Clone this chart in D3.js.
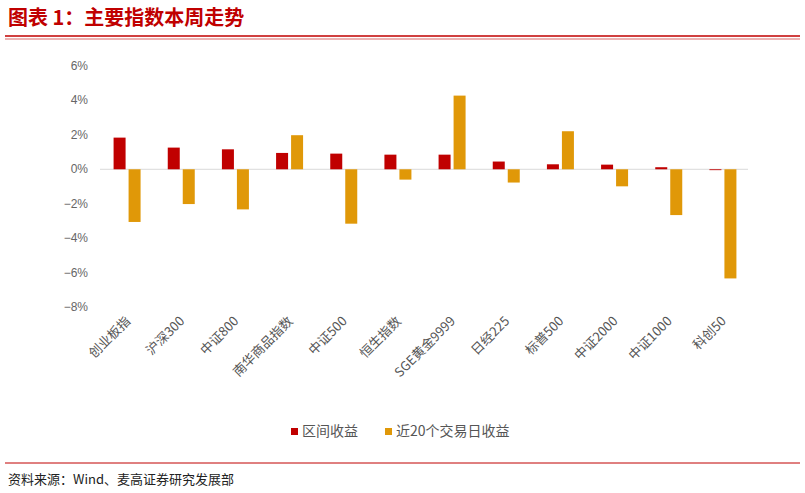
<!DOCTYPE html>
<html><head><meta charset="utf-8">
<script src="https://cdn.jsdelivr.net/npm/d3@7"></script>
<style>body{margin:0;background:#fff;font-family:"Noto Sans CJK SC",sans-serif}</style>
</head><body>
<script>
const categories = ["创业板指","沪深300","中证800","南华商品指数","中证500","恒生指数","SGE黄金9999","日经225","标普500","中证2000","中证1000","科创50"];
const weekReturn = [1.84,1.26,1.16,0.95,0.91,0.85,0.85,0.45,0.29,0.27,0.12,-0.05];
const month20Return = [-3.06,-2.02,-2.33,1.98,-3.16,-0.6,4.28,-0.77,2.21,-0.99,-2.66,-6.34];
const seriesNames = ["区间收益","近20个交易日收益"];
const colors = ["#c00000","#e09808"];
const yTicks = [6,4,2,0,-2,-4,-6,-8];

const width = 805, height = 493;
const svg = d3.select("body").append("svg").attr("width", width).attr("height", height);

// header
svg.append("text").attr("x", 8).attr("y", 25).attr("font-size", 20).attr("font-weight", "bold")
  .attr("fill", "#c00000").text("图表 1：主要指数本周走势");
svg.append("line").attr("x1", 5).attr("x2", 800).attr("y1", 36).attr("y2", 36).attr("stroke", "#c00000").attr("stroke-width", 1.5);
svg.append("line").attr("x1", 5).attr("x2", 800).attr("y1", 39).attr("y2", 39).attr("stroke", "#c00000").attr("stroke-width", 0.6);
// footer
svg.append("line").attr("x1", 5).attr("x2", 800).attr("y1", 463).attr("y2", 463).attr("stroke", "#c00000").attr("stroke-width", 1);
svg.append("text").attr("x", 8).attr("y", 484).attr("font-size", 13).attr("fill", "#222")
  .text("资料来源：Wind、麦高证券研究发展部");

const x = d3.scaleBand().domain(categories).range([100, 750]);
const y = d3.scaleLinear().domain([-8, 6]).range([307, 66]);
const bw = 12, gap = 3;

svg.append("g").selectAll("text").data(yTicks).join("text")
  .attr("x", 88).attr("y", d => y(d) + 4).attr("text-anchor", "end")
  .attr("font-size", 12).attr("fill", "#666").attr("font-family", "Liberation Sans, sans-serif")
  .text(d => (d < 0 ? "−" + (-d) : d) + "%");

svg.append("line").attr("x1", 100).attr("x2", 748).attr("y1", y(0)).attr("y2", y(0)).attr("stroke", "#d9d9d9");

[weekReturn, month20Return].forEach((vals, s) => {
  svg.append("g").selectAll("rect").data(vals).join("rect")
    .attr("x", (d, i) => x(categories[i]) + x.bandwidth() / 2 + (s === 0 ? -bw - gap / 2 : gap / 2))
    .attr("y", d => y(Math.max(0, d)))
    .attr("width", bw)
    .attr("height", d => Math.abs(y(d) - y(0)))
    .attr("fill", colors[s]);
});

svg.append("g").selectAll("text").data(categories).join("text")
  .attr("transform", d => `translate(${x(d) + x.bandwidth() / 2 + 4},${322}) rotate(-45)`)
  .attr("text-anchor", "end").attr("font-size", 13).attr("fill", "#555")
  .text(d => d);

// legend
const lg = svg.append("g").attr("transform", "translate(291,433)");
seriesNames.forEach((n, i) => {
  const ox = i === 0 ? 0 : 94;
  lg.append("rect").attr("x", ox).attr("y", -5).attr("width", 7).attr("height", 7).attr("fill", colors[i]);
  lg.append("text").attr("x", ox + 11).attr("y", 3).attr("font-size", 14).attr("fill", "#555").text(n);
});
</script>
</body></html>
